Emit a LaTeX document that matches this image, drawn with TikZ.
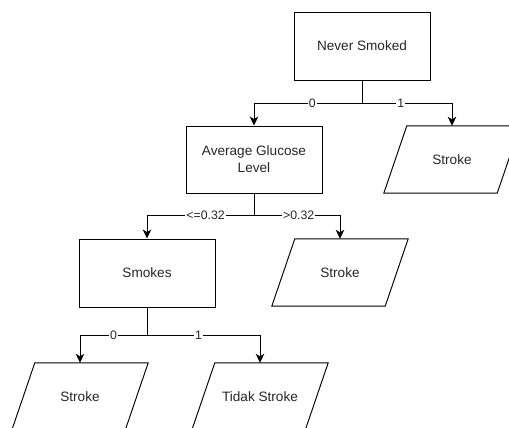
\documentclass[tikz,border=0pt]{standalone}
\usepackage{fontspec}
\setmainfont{Liberation Sans}
\usetikzlibrary{arrows.meta,calc}
% parallelogram outline drawn around a (borderless) text node
\newcommand\slantbox[1]{%
  \draw[outline] ([xshift=-11.5pt]#1.south west) -- ([xshift=11.5pt]#1.north west)
    -- ([xshift=11.5pt]#1.north east) -- ([xshift=-11.5pt]#1.south east) -- cycle;}
\begin{document}
\begin{tikzpicture}[x=1pt,y=-1pt,
  outline/.style={line width=0.95pt, draw=black},
  box/.style={draw=black, line width=0.95pt, minimum width=136pt, minimum height=68pt,
    inner sep=0pt, align=center, font=\fontsize{13.6}{17}\selectfont, text=black!85},
  slanttext/.style={minimum width=113pt, minimum height=67pt, inner sep=0pt,
    align=center, font=\fontsize{13.6}{17}\selectfont, text=black!85},
  wire/.style={line width=0.95pt},
  edge/.style={wire, -{Stealth[length=9pt,width=8.5pt,inset=2.5pt]}},
  lbl/.style={fill=white, inner sep=1pt, font=\fontsize{12.3}{14}\selectfont, text=black!85}]
\useasboundingbox (0,0) rectangle (509,428);
\clip (0,0) rectangle (509,428);

% decision boxes
\node[box] (ns)  at (362,46)    {Never Smoked};
\node[box, minimum height=67pt] (agl) at (254,159.5) {Average Glucose\\Level};
\node[box] (smk) at (147,273)   {Smokes};

% outcome boxes
\node[slanttext] (st1) at (452,159.5) {Stroke};
\node[slanttext] (st2) at (340,272.5) {Stroke};
\node[slanttext] (st3) at (80,396.5)  {Stroke};
\node[slanttext] (ts)  at (260,396.5) {Tidak Stroke};
\slantbox{st1}
\slantbox{st2}
\slantbox{st3}
\slantbox{ts}

% branch points
\coordinate (j1) at (362,103);
\coordinate (j2) at (254,215);
\coordinate (j3) at (147,335);

% branches
\draw[wire] (ns.south) -- (j1);
\draw[edge] (j1) -| node[lbl,pos=0.23]{0} (agl.north);
\draw[edge] (j1) -| node[lbl,pos=0.215]{1} (st1.north);

\draw[wire] (agl.south) -- (j2);
\draw[edge] (j2) -| node[lbl,pos=0.226]{<=0.32} (smk.north);
\draw[edge] (j2) -| node[lbl,pos=0.26]{>0.32} (st2.north);

\draw[wire] (smk.south) -- (j3);
\draw[edge] (j3) -| node[lbl,pos=0.25]{0} (st3.north);
\draw[edge] (j3) -| node[lbl,pos=0.228]{1} (ts.north);
\end{tikzpicture}
\end{document}
